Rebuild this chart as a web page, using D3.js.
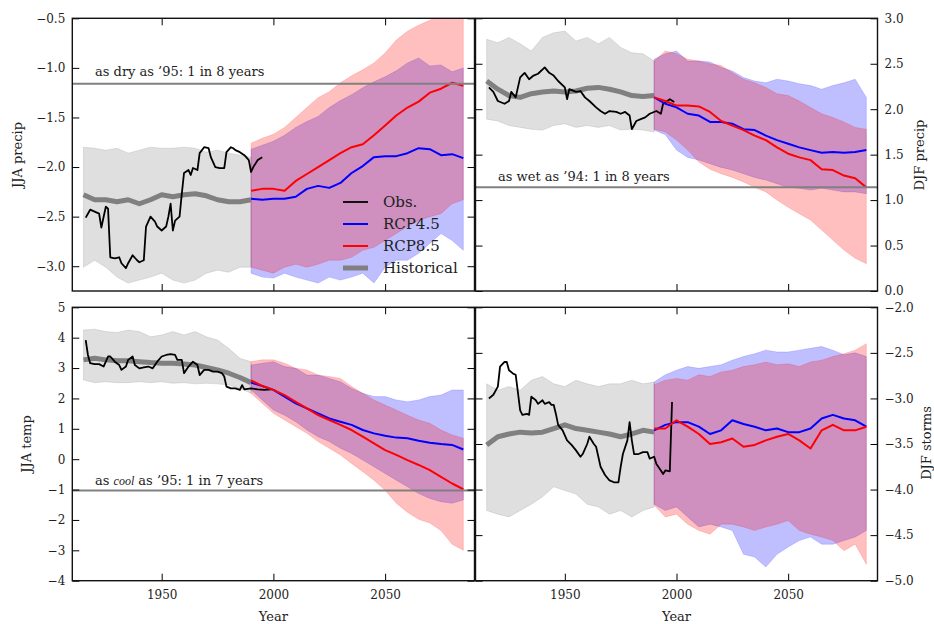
<!DOCTYPE html>
<html><head><meta charset="utf-8">
<script src="https://cdn.jsdelivr.net/npm/d3@7"></script>
<style>body{margin:0;background:#fff}text{font-family:"DejaVu Serif",serif}</style>
</head><body><svg id="c" width="934" height="624"></svg>
<script>
// ---------- DATA ----------
const histYears = [1915,1920,1925,1930,1935,1940,1945,1950,1955,1960,1965,1970,1975,1980,1985,1990];
const projYears = [1990,1995,2000,2005,2010,2015,2020,2025,2030,2035,2040,2045,2050,2055,2060,2065,2070,2075,2080,2085];
const xTicks = [1950, 2000, 2050];

// Panel A: JJA precip
const ticksA = [-3.0,-2.5,-2.0,-1.5,-1.0,-0.5];
const thresholdA = -1.16;
const histMeanA = [-2.28,-2.33,-2.33,-2.35,-2.33,-2.37,-2.33,-2.28,-2.30,-2.28,-2.27,-2.29,-2.33,-2.35,-2.35,-2.33];
const histHiA = [-1.80,-1.81,-1.83,-1.81,-1.86,-1.83,-1.80,-1.81,-1.81,-1.80,-1.81,-1.85,-1.83,-1.86,-1.88,-1.90];
const histLoA = [-3.01,-2.94,-3.01,-3.11,-3.17,-3.14,-3.11,-3.07,-3.14,-3.17,-3.14,-3.07,-3.04,-3.06,-3.01,-3.01];
const rcp45A = [-2.32,-2.33,-2.32,-2.32,-2.30,-2.22,-2.19,-2.21,-2.16,-2.06,-1.99,-1.90,-1.89,-1.89,-1.86,-1.81,-1.82,-1.88,-1.87,-1.91];
const rcp45HiA = [-1.82,-1.78,-1.74,-1.68,-1.60,-1.54,-1.49,-1.40,-1.33,-1.27,-1.20,-1.14,-1.09,-1.03,-0.95,-0.90,-0.98,-0.97,-1.04,-1.00];
const rcp45LoA = [-3.07,-3.11,-3.12,-3.07,-3.11,-3.14,-3.17,-3.11,-3.14,-3.11,-3.07,-3.17,-3.01,-2.94,-2.94,-2.87,-2.77,-2.67,-2.74,-2.84];
const rcp85A = [-2.24,-2.22,-2.22,-2.24,-2.14,-2.07,-2.00,-1.93,-1.86,-1.80,-1.77,-1.68,-1.58,-1.48,-1.40,-1.34,-1.25,-1.21,-1.15,-1.18];
const rcp85HiA = [-1.76,-1.71,-1.67,-1.60,-1.50,-1.40,-1.30,-1.24,-1.15,-1.08,-1.02,-0.95,-0.85,-0.72,-0.63,-0.57,-0.52,-0.47,-0.44,-0.42];
const rcp85LoA = [-3.01,-3.04,-3.07,-3.01,-2.98,-3.01,-2.98,-2.94,-2.94,-2.91,-2.84,-2.81,-2.74,-2.67,-2.60,-2.54,-2.50,-2.47,-2.37,-2.33];
const obsYearsA = [1916,1918,1920,1922,1923,1925,1926,1927,1929,1931,1932,1934,1935,1937,1939,1940,1942,1943,1945,1947,1948,1950,1952,1953,1954,1955,1956,1958,1959,1960,1962,1963,1964,1966,1967,1969,1971,1972,1974,1976,1978,1979,1981,1982,1983,1985,1987,1989,1990,1991,1993,1995];
const obsA = [-2.51,-2.43,-2.45,-2.47,-2.61,-2.40,-2.42,-2.91,-2.92,-2.91,-2.97,-3.02,-2.97,-2.89,-2.94,-2.96,-2.94,-2.60,-2.50,-2.55,-2.60,-2.64,-2.60,-2.50,-2.37,-2.64,-2.54,-2.50,-2.27,-2.06,-2.03,-2.08,-2.01,-2.03,-1.86,-1.80,-1.81,-1.90,-2.00,-2.01,-2.01,-1.85,-1.80,-1.81,-1.83,-1.85,-1.88,-1.93,-2.05,-2.00,-1.93,-1.90];

// Panel B: DJF precip
const ticksB = [0.0,0.5,1.0,1.5,2.0,2.5,3.0];
const thresholdB = 1.14;
const histMeanB = [2.31,2.22,2.15,2.13,2.17,2.19,2.20,2.19,2.20,2.23,2.24,2.22,2.19,2.15,2.14,2.15];
const histHiB = [2.77,2.73,2.79,2.72,2.64,2.79,2.84,2.86,2.75,2.79,2.72,2.79,2.68,2.62,2.61,2.53];
const histLoB = [1.89,1.87,1.82,1.80,1.78,1.77,1.82,1.84,1.80,1.82,1.80,1.82,1.77,1.78,1.77,1.75];
const rcp45B = [2.13,2.06,2.02,1.95,1.93,1.86,1.86,1.84,1.78,1.77,1.71,1.66,1.62,1.58,1.55,1.52,1.53,1.52,1.53,1.55];
const rcp45HiB = [2.55,2.61,2.64,2.53,2.53,2.52,2.46,2.42,2.35,2.31,2.29,2.33,2.31,2.28,2.26,2.22,2.26,2.29,2.33,2.13];
const rcp45LoB = [1.77,1.72,1.55,1.47,1.44,1.40,1.36,1.33,1.29,1.25,1.22,1.18,1.14,1.13,1.11,1.13,1.11,1.09,1.09,1.07];
const rcp85B = [2.13,2.09,2.04,2.04,2.03,1.97,1.87,1.82,1.77,1.71,1.66,1.58,1.51,1.47,1.44,1.34,1.33,1.27,1.24,1.14];
const rcp85HiB = [2.53,2.64,2.61,2.55,2.53,2.50,2.48,2.40,2.33,2.29,2.24,2.17,2.15,2.09,2.02,1.95,1.91,1.86,1.80,1.78];
const rcp85LoB = [1.78,1.75,1.66,1.55,1.42,1.34,1.29,1.25,1.20,1.14,1.09,1.00,0.92,0.85,0.78,0.67,0.56,0.45,0.36,0.30];
const obsYearsB = [1916,1918,1920,1923,1925,1926,1928,1930,1932,1934,1936,1938,1941,1943,1945,1947,1950,1951,1952,1955,1957,1959,1961,1964,1966,1968,1970,1973,1975,1977,1979,1980,1982,1984,1986,1988,1991,1993,1994,1997,1999];
const obsB = [2.24,2.19,2.09,2.06,2.09,2.19,2.13,2.35,2.40,2.33,2.37,2.39,2.46,2.40,2.37,2.31,2.24,2.11,2.22,2.19,2.20,2.13,2.09,2.02,1.98,1.95,1.98,1.97,1.95,1.97,1.93,1.78,1.87,1.89,1.91,1.95,1.98,1.95,2.06,2.11,2.08];

// Panel C: JJA temp
const ticksC = [-4,-3,-2,-1,0,1,2,3,4,5];
const thresholdC = -1.03;
const histMeanC = [3.27,3.32,3.27,3.24,3.24,3.21,3.18,3.16,3.16,3.13,3.10,3.02,2.94,2.83,2.69,2.52];
const histHiC = [4.25,4.28,4.20,4.17,4.25,4.20,4.03,4.09,4.20,4.09,4.20,4.03,3.92,3.65,3.32,3.21];
const histLoC = [2.61,2.52,2.55,2.52,2.52,2.55,2.52,2.55,2.50,2.52,2.48,2.50,2.48,2.44,2.33,2.17];
const rcp45C = [2.52,2.41,2.28,2.06,1.84,1.67,1.51,1.34,1.23,1.13,0.96,0.85,0.77,0.71,0.69,0.61,0.54,0.50,0.47,0.32];
const rcp45HiC = [3.10,3.16,3.21,3.05,2.99,2.77,2.77,2.66,2.55,2.33,2.17,2.06,2.06,1.95,1.89,1.95,2.06,2.11,2.28,2.28];
const rcp45LoC = [2.28,1.95,1.62,1.45,1.23,0.96,0.74,0.58,0.36,0.19,-0.03,-0.25,-0.47,-0.69,-0.91,-1.13,-1.29,-1.40,-1.45,-1.34];
const rcp85C = [2.59,2.41,2.28,2.11,1.89,1.67,1.45,1.29,1.13,0.96,0.74,0.52,0.30,0.14,-0.03,-0.19,-0.36,-0.58,-0.80,-0.99];
const rcp85HiC = [3.21,3.27,3.27,3.16,2.99,2.94,2.77,2.72,2.66,2.39,2.17,1.95,1.78,1.62,1.45,1.29,1.18,0.96,0.80,0.69];
const rcp85LoC = [2.17,1.84,1.51,1.29,1.07,0.85,0.58,0.36,0.14,-0.14,-0.41,-0.69,-1.02,-1.45,-1.75,-1.98,-2.10,-2.35,-2.80,-3.00];
const obsYearsC = [1916,1917,1918,1920,1922,1924,1926,1927,1929,1931,1932,1934,1935,1937,1938,1940,1942,1944,1946,1948,1950,1952,1954,1956,1957,1959,1960,1962,1964,1966,1967,1969,1971,1973,1975,1977,1978,1979,1981,1983,1985,1986,1987,1990,1993,1996,1999];
const obsC = [3.92,3.43,3.16,3.13,3.13,3.05,3.38,3.38,3.21,3.10,2.94,3.05,3.27,3.38,3.10,2.99,3.02,3.05,2.99,3.21,3.38,3.43,3.46,3.43,3.27,3.27,2.83,3.05,3.21,3.10,2.77,2.94,2.94,2.88,2.88,2.83,2.72,2.39,2.33,2.33,2.28,2.44,2.30,2.33,2.30,2.28,2.30];

// Panel D: DJF storms
const ticksD = [-5.0,-4.5,-4.0,-3.5,-3.0,-2.5,-2.0];
const histMeanD = [-3.51,-3.42,-3.39,-3.37,-3.38,-3.37,-3.33,-3.29,-3.33,-3.35,-3.37,-3.39,-3.42,-3.39,-3.35,-3.37];
const histHiD = [-2.84,-2.91,-2.87,-2.91,-2.80,-2.76,-2.84,-2.87,-2.80,-2.84,-2.87,-2.84,-2.84,-2.80,-2.84,-2.82];
const histLoD = [-4.23,-4.27,-4.30,-4.23,-4.16,-4.08,-3.97,-4.01,-4.05,-4.16,-4.19,-4.27,-4.23,-4.30,-4.23,-4.19];
const rcp45D = [-3.35,-3.29,-3.26,-3.26,-3.31,-3.39,-3.35,-3.24,-3.28,-3.31,-3.35,-3.33,-3.37,-3.37,-3.33,-3.22,-3.18,-3.22,-3.24,-3.31];
const rcp45HiD = [-2.82,-2.74,-2.69,-2.65,-2.67,-2.65,-2.63,-2.58,-2.54,-2.51,-2.47,-2.49,-2.49,-2.47,-2.45,-2.43,-2.47,-2.52,-2.50,-2.54];
const rcp45LoD = [-4.16,-4.23,-4.19,-4.30,-4.41,-4.38,-4.41,-4.45,-4.71,-4.74,-4.85,-4.71,-4.63,-4.56,-4.52,-4.60,-4.60,-4.56,-4.52,-4.45];
const rcp85D = [-3.33,-3.33,-3.24,-3.31,-3.39,-3.50,-3.48,-3.44,-3.53,-3.51,-3.46,-3.42,-3.39,-3.46,-3.55,-3.35,-3.29,-3.35,-3.35,-3.31];
const rcp85HiD = [-2.85,-2.80,-2.78,-2.80,-2.74,-2.76,-2.71,-2.69,-2.65,-2.63,-2.60,-2.63,-2.62,-2.65,-2.60,-2.58,-2.54,-2.51,-2.47,-2.40];
const rcp85LoD = [-4.17,-4.30,-4.27,-4.38,-4.45,-4.49,-4.38,-4.38,-4.41,-4.45,-4.41,-4.38,-4.34,-4.45,-4.49,-4.52,-4.56,-4.67,-4.60,-4.82];
const obsYearsD = [1916,1918,1920,1921,1923,1924,1925,1927,1928,1930,1931,1933,1934,1935,1937,1938,1940,1941,1943,1944,1945,1946,1947,1949,1951,1953,1955,1957,1958,1960,1961,1963,1964,1966,1968,1970,1972,1974,1975,1976,1978,1979,1980,1981,1983,1985,1987,1988,1990,1991,1993,1994,1995,1997,1998];
const obsD = [-3.00,-2.96,-2.87,-2.65,-2.60,-2.60,-2.69,-2.73,-2.74,-3.13,-3.18,-3.17,-3.18,-2.98,-3.02,-3.06,-3.02,-3.06,-3.04,-3.07,-3.07,-3.17,-3.29,-3.35,-3.46,-3.51,-3.57,-3.64,-3.61,-3.50,-3.42,-3.50,-3.53,-3.75,-3.84,-3.90,-3.92,-3.92,-3.75,-3.61,-3.46,-3.26,-3.46,-3.61,-3.61,-3.59,-3.59,-3.66,-3.64,-3.72,-3.79,-3.83,-3.79,-3.80,-3.04];

const legendLabels = ["Obs.", "RCP4.5", "RCP8.5", "Historical"];

// ---------- DRAWING ----------
const svg = d3.select("#c");
const zip = (xs, ys) => xs.map((v, i) => [v, ys[i]]);
const zip3 = (xs, a, b) => xs.map((v, i) => [v, a[i], b[i]]);

const panels = [
  {id:"A", g:{x0:72.3,x1:474.5,y0:18.3,y1:291}, dom:[-3.25,-0.5], ticks:ticksA, fmt:d3.format(".1f"), side:"left", xlab:false,
   label:"JJA precip", labPos:[22,155], thr:thresholdA,
   hist:[histMeanA,histLoA,histHiA], r45:[rcp45A,rcp45LoA,rcp45HiA], r85:[rcp85A,rcp85LoA,rcp85HiA], obs:[obsYearsA,obsA]},
  {id:"B", g:{x0:475.5,x1:877.5,y0:18.3,y1:291}, dom:[0,3], ticks:ticksB, fmt:d3.format(".1f"), side:"right", xlab:false,
   label:"DJF precip", labPos:[924,155], thr:thresholdB,
   hist:[histMeanB,histLoB,histHiB], r45:[rcp45B,rcp45LoB,rcp45HiB], r85:[rcp85B,rcp85LoB,rcp85HiB], obs:[obsYearsB,obsB]},
  {id:"C", g:{x0:72.3,x1:474.5,y0:307.3,y1:580.7}, dom:[-4,5], ticks:ticksC, fmt:d3.format("d"), side:"left", xlab:true,
   label:"JJA temp", labPos:[31,444], thr:thresholdC,
   hist:[histMeanC,histLoC,histHiC], r45:[rcp45C,rcp45LoC,rcp45HiC], r85:[rcp85C,rcp85LoC,rcp85HiC], obs:[obsYearsC,obsC]},
  {id:"D", g:{x0:475.5,x1:877.5,y0:307.3,y1:580.7}, dom:[-5,-2], ticks:ticksD, fmt:d3.format(".1f"), side:"right", xlab:true,
   label:"DJF storms", labPos:[931,443], thr:null,
   hist:[histMeanD,histLoD,histHiD], r45:[rcp45D,rcp45LoD,rcp45HiD], r85:[rcp85D,rcp85LoD,rcp85HiD], obs:[obsYearsD,obsD]}
];

const defs = svg.append("defs");

panels.forEach(p => {
  const {x0,x1,y0,y1} = p.g;
  const x = d3.scaleLinear().domain([1910,2090]).range([x0,x1]);
  const y = d3.scaleLinear().domain(p.dom).range([y1,y0]);
  defs.append("clipPath").attr("id","clip"+p.id).append("rect")
    .attr("x",x0).attr("y",y0).attr("width",x1-x0).attr("height",y1-y0);
  const g = svg.append("g");
  const plot = g.append("g").attr("clip-path",`url(#clip${p.id})`);

  const area = d3.area().x(d=>x(d[0])).y0(d=>y(d[1])).y1(d=>y(d[2]));
  const line = d3.line().x(d=>x(d[0])).y(d=>y(d[1]));

  // bands
  plot.append("path").datum(zip3(histYears,p.hist[1],p.hist[2])).attr("d",area)
    .attr("fill","#808080").attr("fill-opacity",0.25).attr("stroke","#808080").attr("stroke-opacity",0.2).attr("stroke-width",1);
  plot.append("path").datum(zip3(projYears,p.r45[1],p.r45[2])).attr("d",area)
    .attr("fill","#0000ff").attr("fill-opacity",0.25).attr("stroke","#0000ff").attr("stroke-opacity",0.15).attr("stroke-width",1);
  plot.append("path").datum(zip3(projYears,p.r85[1],p.r85[2])).attr("d",area)
    .attr("fill","#ff0000").attr("fill-opacity",0.25).attr("stroke","#ff0000").attr("stroke-opacity",0.15).attr("stroke-width",1);

  // threshold
  if (p.thr !== null) {
    g.append("line").attr("x1",x0).attr("x2",x1).attr("y1",y(p.thr)).attr("y2",y(p.thr))
      .attr("stroke","#808080").attr("stroke-width",2);
  }

  // lines
  plot.append("path").datum(zip(histYears,p.hist[0])).attr("d",line)
    .attr("fill","none").attr("stroke","#808080").attr("stroke-width",5).attr("stroke-linejoin","round");
  plot.append("path").datum(zip(p.obs[0],p.obs[1])).attr("d",line)
    .attr("fill","none").attr("stroke","#000").attr("stroke-width",1.8).attr("stroke-linejoin","round");
  plot.append("path").datum(zip(projYears,p.r45[0])).attr("d",line)
    .attr("fill","none").attr("stroke","#0000ff").attr("stroke-width",2).attr("stroke-linejoin","round");
  plot.append("path").datum(zip(projYears,p.r85[0])).attr("d",line)
    .attr("fill","none").attr("stroke","#ff0000").attr("stroke-width",2).attr("stroke-linejoin","round");

  // axes (ticks inward, on all four sides)
  const tickStyle = sel => {
    sel.select(".domain").remove();
    sel.selectAll(".tick line").attr("stroke","#000").attr("stroke-width",1);
    sel.selectAll(".tick text").attr("fill","#222").style("font-family","DejaVu Serif").style("font-size","12px");
  };
  const yLeft = d3.axisLeft(y).tickValues(p.ticks).tickSize(-7).tickSizeOuter(0).tickPadding(7)
    .tickFormat(p.side==="left" ? p.fmt : "");
  g.append("g").attr("transform",`translate(${x0},0)`).call(yLeft).call(tickStyle);
  const yRight = d3.axisRight(y).tickValues(p.ticks).tickSize(-7).tickSizeOuter(0).tickPadding(7)
    .tickFormat(p.side==="right" ? p.fmt : "");
  g.append("g").attr("transform",`translate(${x1},0)`).call(yRight).call(tickStyle);
  const xBottom = d3.axisBottom(x).tickValues(xTicks).tickSize(-7).tickSizeOuter(0).tickPadding(10)
    .tickFormat(p.xlab ? d3.format("d") : "");
  g.append("g").attr("transform",`translate(0,${y1})`).call(xBottom).call(tickStyle);
  const xTop = d3.axisTop(x).tickValues(xTicks).tickSize(-7).tickSizeOuter(0).tickFormat("");
  g.append("g").attr("transform",`translate(0,${y0})`).call(xTop).call(tickStyle);

  // frame
  g.append("rect").attr("x",x0).attr("y",y0).attr("width",x1-x0).attr("height",y1-y0)
    .attr("fill","none").attr("stroke","#111").attr("stroke-width",1.4);

  // y label
  svg.append("text").attr("transform",`translate(${p.labPos[0]},${p.labPos[1]}) rotate(-90)`)
    .attr("text-anchor","middle").attr("fill","#222").style("font-size","13px").text(p.label);

  if (p.xlab) {
    svg.append("text").attr("x",x(2000)).attr("y",621).attr("text-anchor","middle")
      .attr("fill","#222").style("font-size","13px").text("Year");
  }
});

// annotations
const annStyle = sel => sel.attr("fill","#222").style("font-size","13px");
svg.append("text").attr("x",95).attr("y",76).call(annStyle).text("as dry as \u201995: 1 in 8 years");
svg.append("text").attr("x",498).attr("y",181).call(annStyle).text("as wet as \u201994: 1 in 8 years");
const cool = svg.append("text").attr("x",95).attr("y",485).call(annStyle);
cool.append("tspan").text("as ");
cool.append("tspan").style("font-style","italic").style("font-family","Liberation Serif").style("font-size","12px").text("cool");
cool.append("tspan").text(" as \u201995: 1 in 7 years");

// legend
const legStyles = [
  {c:"#000", w:1.8}, {c:"#0000ff", w:2}, {c:"#ff0000", w:2}, {c:"#808080", w:5}
];
const legRows = [202, 224, 246, 268];
const leg = svg.append("g");
legendLabels.forEach((lab, i) => {
  leg.append("line").attr("x1",343).attr("x2",368).attr("y1",legRows[i]).attr("y2",legRows[i])
    .attr("stroke",legStyles[i].c).attr("stroke-width",legStyles[i].w);
  leg.append("text").attr("x",383).attr("y",legRows[i]+5).attr("fill","#222")
    .style("font-size","15px").text(lab);
});
</script>
</body></html>
